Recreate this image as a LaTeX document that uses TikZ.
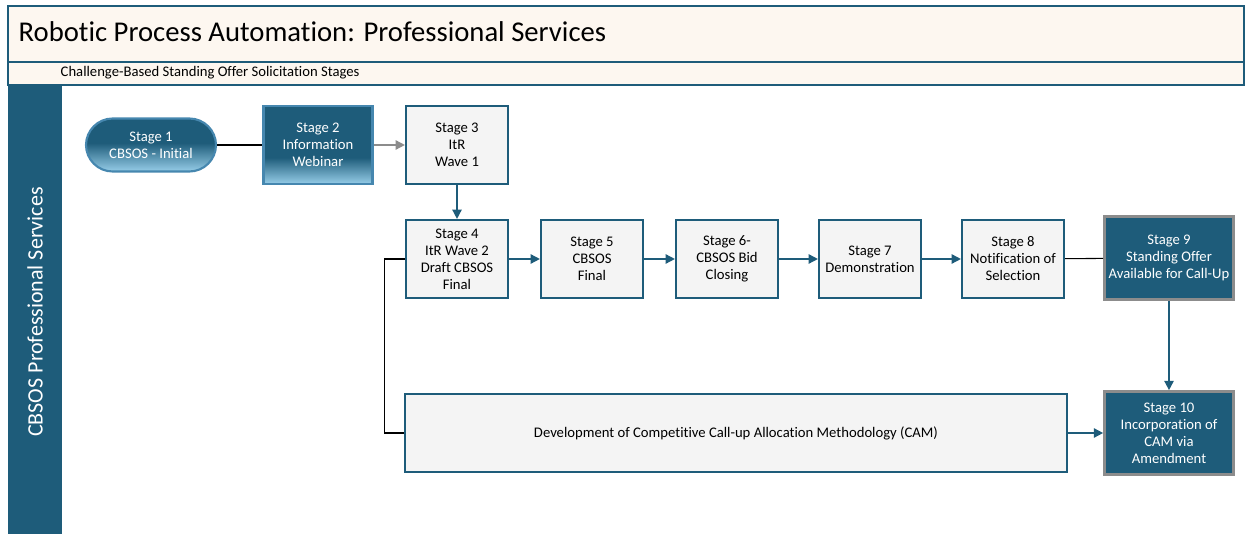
\documentclass[tikz,border=0pt]{standalone}
\usepackage{fontspec}
\setmainfont{Carlito}[Ligatures=NoCommon]
\usetikzlibrary{arrows.meta}
\usetikzlibrary{positioning}
\definecolor{laneblue}{RGB}{30,92,122}
\definecolor{boxgray}{RGB}{244,244,244}
\definecolor{headcream}{RGB}{253,247,240}
\definecolor{skyblue}{RGB}{150,205,232}
\definecolor{rimgray}{RGB}{140,140,140}
\definecolor{edgeblue}{RGB}{70,135,175}
\pgfdeclareverticalshading{webfade}{100bp}{color(0bp)=(skyblue); color(25bp)=(skyblue); color(42bp)=(laneblue); color(100bp)=(laneblue)}
\pgfdeclareverticalshading{startfade}{100bp}{color(0bp)=(skyblue); color(25bp)=(skyblue); color(52bp)=(laneblue); color(100bp)=(laneblue)}
\tikzset{
  stagebox/.style={draw=laneblue, line width=1.6pt, fill=boxgray, align=center,
    minimum width=76.5pt, minimum height=58.5pt, inner sep=2pt,
    font=\fontsize{11}{12.75}\selectfont},
  darkbox/.style={stagebox, draw=rimgray, line width=2pt, fill=laneblue, text=white,
    minimum width=96.75pt, minimum height=62.25pt},
  flow/.style={draw=laneblue, line width=1.2pt, -{Triangle[length=7pt,width=7pt]}},
  plainlink/.style={draw=black, line width=0.8pt},
}
\begin{document}
\begin{tikzpicture}[x=0.75pt,y=-0.75pt]
  \useasboundingbox (0,0) rectangle (1245,534);
  % header bands and lane
  \draw[draw=laneblue, line width=1.5pt, fill=headcream] (8,6) rectangle (1244,62);
  \draw[draw=laneblue, line width=1.5pt, fill=headcream] (8,62) rectangle (1244,85);
  \fill[laneblue] (8,85) rectangle (62,534);
  \node[anchor=west, font=\fontsize{21.5}{24}\selectfont] (title) at (14,32) {Robotic Process Automation: Professional Services};
  \node[anchor=west, font=\fontsize{11}{13}\selectfont] (subtitle) at (56,73) {Challenge-Based Standing Offer Solicitation Stages};
  \node[rotate=90, text=white, font=\fontsize{16.5}{19}\selectfont] (lane) at (35,312) {CBSOS Professional Services};

  % first row
  \node[stagebox, draw=edgeblue, shading=startfade, text=white, rounded corners=20pt,
        minimum width=97.5pt, minimum height=39.75pt] (s1) at (151,145) {Stage 1\\CBSOS - Initial};
  \node[stagebox, draw=edgeblue, shading=webfade, text=white,
        minimum width=81.75pt] (s2) at (318,145) {Stage 2\\Information\\Webinar};
  \node[stagebox] (s3) at (457,145) {Stage 3\\ItR\\Wave 1};

  % second row
  \node[stagebox] (s4) at (457,259) {Stage 4\\ItR Wave 2\\Draft CBSOS\\Final};
  \node[stagebox] (s5) at (592,259) {Stage 5\\CBSOS\\Final};
  \node[stagebox] (s6) at (727,259) {Stage 6-\\CBSOS Bid\\Closing};
  \node[stagebox] (s7) at (870,259) {Stage 7\\Demonstration};
  \node[stagebox] (s8) at (1013,259) {Stage 8\\Notification of\\Selection};
  \node[darkbox] (s9) at (1169,258) {Stage 9\\Standing Offer\\Available for Call-Up};

  % third row
  \node[stagebox, minimum width=496.5pt] (cam) at (736,433) {Development of Competitive Call-up Allocation Methodology (CAM)};
  \node[darkbox] (s10) at (1169,433) {Stage 10\\Incorporation of\\CAM via\\Amendment};

  % connectors
  \draw[plainlink] (s1) -- (s2);
  \draw[draw=rimgray, line width=1.2pt, -{Triangle[length=7pt,width=7pt]}] (s2) -- (s3);
  \draw[flow] (s3) -- (s4);
  \foreach \a/\b in {4/5,5/6,6/7,7/8}
    \draw[flow] (s\a) -- (s\b);
  \draw[plainlink] (s8) -- (s9);
  \draw[flow] (s9) -- (s10);
  \draw[plainlink] (s4.west) -- ++(-20,0) |- (cam.west);
  \draw[flow] (cam) -- (s10);
\end{tikzpicture}
\end{document}
